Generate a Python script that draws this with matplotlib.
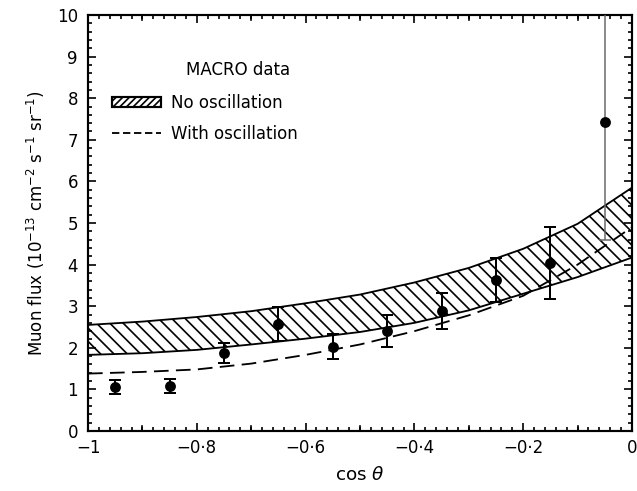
import matplotlib
matplotlib.use("Agg")
import matplotlib.pyplot as plt
from matplotlib.patches import Patch
from matplotlib.lines import Line2D
from matplotlib.ticker import MultipleLocator, FixedLocator

# MACRO upward-going muon flux vs zenith angle
cos_bins = [-0.95, -0.85, -0.75, -0.65, -0.55, -0.45, -0.35, -0.25, -0.15, -0.05]
flux = [1.06, 1.08, 1.87, 2.57, 2.02, 2.40, 2.88, 3.63, 4.04, 7.43]
flux_err = [0.16, 0.16, 0.24, 0.40, 0.30, 0.38, 0.43, 0.54, 0.86, 2.84]

# Expected flux without oscillation (band) and with oscillation (dashed)
cos_grid = [-1.0, -0.9, -0.8, -0.7, -0.6, -0.5, -0.4, -0.3, -0.2, -0.1, 0.0]
band_high = [2.55, 2.63, 2.74, 2.88, 3.07, 3.28, 3.57, 3.92, 4.38, 4.98, 5.85]
band_low = [1.83, 1.87, 1.95, 2.08, 2.22, 2.38, 2.60, 2.90, 3.30, 3.70, 4.17]
osc_flux = [1.38, 1.42, 1.48, 1.62, 1.83, 2.08, 2.40, 2.78, 3.25, 4.00, 4.90]

x_ticks = [-1.0, -0.8, -0.6, -0.4, -0.2, 0.0]
x_tick_labels = ["\u22121", "\u22120\u00b78", "\u22120\u00b76", "\u22120\u00b74", "\u22120\u00b72", "0"]
y_ticks = list(range(0, 11))

DPI = 120
plt.rcParams["font.family"] = ["DejaVu Sans"]
plt.rcParams["hatch.linewidth"] = 1.0

fig = plt.figure(figsize=(637 / DPI, 491 / DPI), dpi=DPI)
ax = fig.add_axes([88 / 637, 1 - 431 / 491, 544 / 637, 416 / 491])

ax.fill_between(cos_grid, band_low, band_high, facecolor="white",
                edgecolor="black", hatch="\\\\\\", linewidth=1.1, zorder=1)
ax.plot(cos_grid, osc_flux, color="black", lw=1.1, dashes=(8, 4), zorder=2)

# data points (last bin drawn with a thin grey bar)
ax.errorbar(cos_bins[:-1], flux[:-1], yerr=flux_err[:-1], fmt="o", color="black",
            ms=5.5, elinewidth=1.2, capsize=3.5, capthick=1.2, zorder=3)
ax.errorbar(cos_bins[-1:], flux[-1:], yerr=flux_err[-1:], fmt="o", color="black",
            ecolor="#666666", ms=5.5, elinewidth=0.9, capsize=3.5, capthick=0.9, zorder=3)

ax.set_xlim(-1, 0)
ax.set_ylim(0, 10)

ax.xaxis.set_major_locator(FixedLocator(x_ticks))
ax.set_xticklabels(x_tick_labels)
ax.xaxis.set_minor_locator(MultipleLocator(0.02))
ax.set_yticks(y_ticks)
ax.yaxis.set_minor_locator(MultipleLocator(0.2))

for side in ax.spines.values():
    side.set_linewidth(1.3)
ax.tick_params(which="both", direction="in", top=True, right=True, width=1.0)
ax.tick_params(which="major", length=5, labelsize=10)
ax.tick_params(axis="x", which="major", pad=5)
ax.tick_params(axis="y", which="major", pad=6)
ax.tick_params(which="minor", length=2.5)
# medium ticks every 0.1 on the cos axis
for xv in [-0.9, -0.7, -0.5, -0.3, -0.1]:
    ax.plot([xv, xv], [0, 0.12], color="black", lw=1.0, clip_on=False, zorder=4)
    ax.plot([xv, xv], [10, 9.88], color="black", lw=1.0, clip_on=False, zorder=4)

ax.set_xlabel(r"cos $\theta$", fontsize=11, labelpad=5)
ax.set_ylabel(r"Muon flux (10$^{-13}$ cm$^{-2}$ s$^{-1}$ sr$^{-1}$)", fontsize=10, labelpad=6)

ax.text(0.275, 0.868, "MACRO data", transform=ax.transAxes, fontsize=10,
        ha="center", va="center")
handles = [Patch(facecolor="white", edgecolor="black", hatch="//////", lw=1.3),
           Line2D([0], [0], color="black", lw=1.1, dashes=(4, 2))]
ax.legend(handles, ["No oscillation", "With oscillation"], loc="upper left",
          bbox_to_anchor=(0.045, 0.81), frameon=False, fontsize=10,
          handlelength=2.9, handleheight=0.55, handletextpad=0.6,
          labelspacing=0.75, borderpad=0, borderaxespad=0)

fig.savefig("out.png", dpi=DPI)
